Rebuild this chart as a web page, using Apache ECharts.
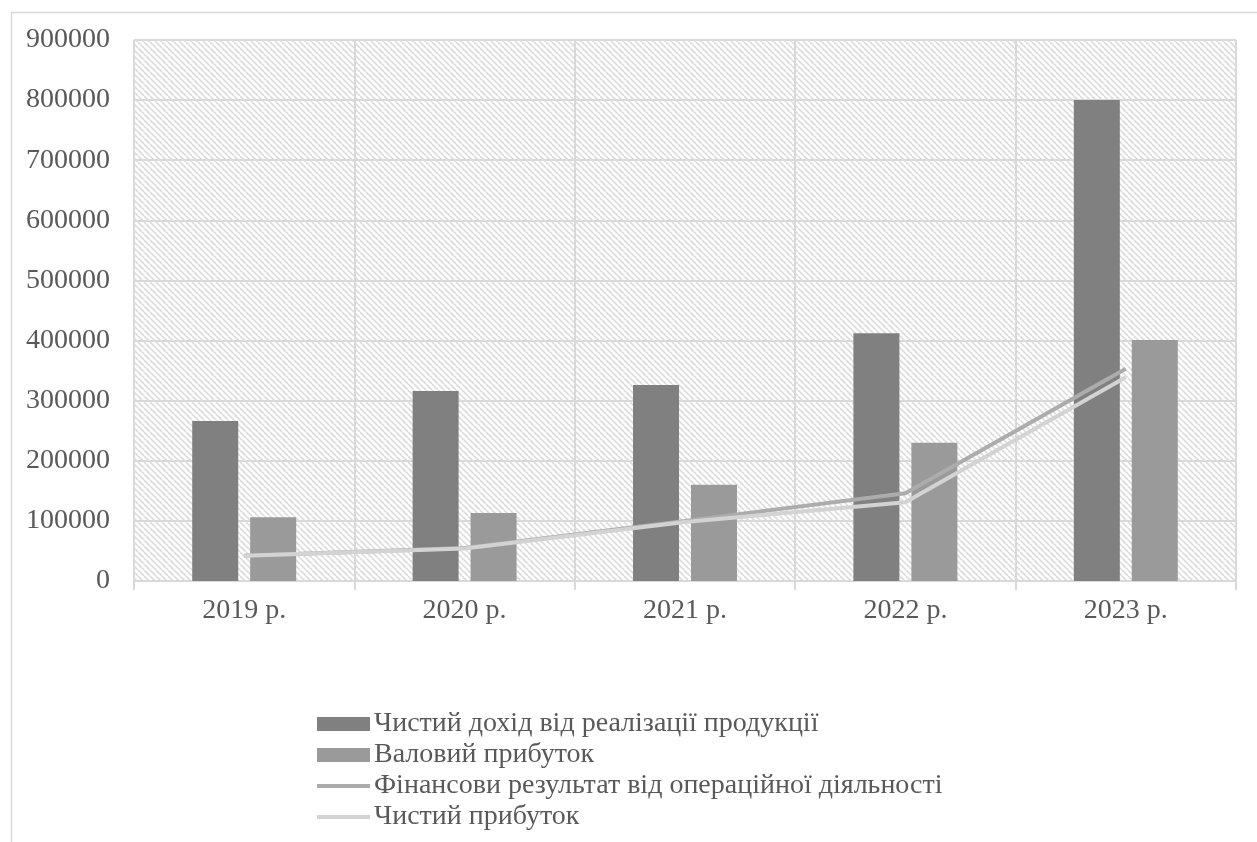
<!DOCTYPE html>
<html>
<head>
<meta charset="utf-8">
<script src="https://cdn.jsdelivr.net/npm/echarts@6/dist/echarts.min.js"></script>
<style>
    html, body { margin: 0; padding: 0; background: #fff; }
    #chart { width: 1257px; height: 842px; }
</style>
</head>
<body>
<div id="chart"></div>
<script>
// дані з діаграми
var years = ['2019 р.', '2020 р.', '2021 р.', '2022 р.', '2023 р.']
var netIncome = [266000, 316000, 326000, 412000, 800000]
var grossProfit = [106000, 113000, 160000, 230000, 401000]
var operResult = [42000, 55000, 100000, 146000, 353000]
var netProfit = [42000, 54000, 98000, 131000, 339000]
var seriesNames = [
    'Чистий дохід від реалізації продукції',
    'Валовий прибуток',
    'Фінансови результат від операційної діяльності',
    'Чистий прибуток'
]

// штриховка фону
function makeHatch() {
    var c = document.createElement('canvas')
    c.width = 6
    c.height = 6
    var ctx = c.getContext('2d')
    ctx.fillStyle = '#ffffff'
    ctx.fillRect(0, 0, 6, 6)
    ctx.strokeStyle = '#dcdcdc'
    ctx.lineWidth = 1.6
    ;[-6, 0, 6].forEach(function (o) {
        ctx.beginPath()
        ctx.moveTo(o, 0)
        ctx.lineTo(o + 6, 6)
        ctx.stroke()
    })
    return c
}

var font = '"Liberation Serif", "Times New Roman", serif'
var noSymbol = { color: 'rgba(0,0,0,0)', borderWidth: 0 }
var chart = echarts.init(document.getElementById('chart'))
chart.setOption({
    backgroundColor: '#fff',
    animation: false,
    graphic: [{
        type: 'rect',
        left: 9,
        top: 10,
        shape: { width: 1270, height: 860 },
        style: { fill: 'none', stroke: '#d9d9d9', lineWidth: 1.5 },
        silent: true
    }],
    grid: {
        left: 134,
        right: 21,
        top: 40,
        bottom: 261,
        show: true,
        borderWidth: 0,
        backgroundColor: { image: makeHatch(), repeat: 'repeat' }
    },
    legend: {
        orient: 'vertical',
        left: 310,
        top: 705,
        itemWidth: 53,
        itemHeight: 14,
        itemGap: 3,
        textStyle: { fontFamily: font, fontSize: 28, lineHeight: 28, color: '#595959', padding: [0, 0, 0, -1] },
        data: [
            { name: seriesNames[0], icon: 'rect' },
            { name: seriesNames[1], icon: 'rect' },
            { name: seriesNames[2], itemStyle: noSymbol, lineStyle: { width: 4 } },
            { name: seriesNames[3], itemStyle: noSymbol, lineStyle: { width: 4 } }
        ]
    },
    xAxis: {
        type: 'category',
        data: years,
        boundaryGap: true,
        axisLine: { lineStyle: { color: '#d9d9d9', width: 2 } },
        axisTick: { show: true, length: 9, lineStyle: { color: '#d9d9d9', width: 2 } },
        splitLine: { show: true, lineStyle: { color: '#d9d9d9', width: 2 } },
        axisLabel: { fontFamily: font, fontSize: 28, color: '#595959', margin: 16 }
    },
    yAxis: {
        type: 'value',
        min: 0,
        max: 900000,
        interval: 100000,
        axisLine: { show: false },
        axisTick: { show: false },
        splitLine: { lineStyle: { color: '#d9d9d9', width: 2 } },
        axisLabel: {
            fontFamily: font,
            fontSize: 28,
            color: '#595959',
            margin: 24,
            formatter: function (v) { return String(v) }
        }
    },
    series: [
        {
            name: seriesNames[0],
            type: 'bar',
            barWidth: 46,
            barGap: '26%',
            itemStyle: { color: '#808080' },
            data: netIncome
        },
        {
            name: seriesNames[1],
            type: 'bar',
            barWidth: 46,
            itemStyle: { color: '#9a9a9a' },
            data: grossProfit
        },
        {
            name: seriesNames[2],
            type: 'line',
            symbol: 'none',
            lineStyle: { color: '#acacac', width: 4 },
            itemStyle: { color: '#acacac' },
            data: operResult
        },
        {
            name: seriesNames[3],
            type: 'line',
            symbol: 'none',
            lineStyle: { color: '#d3d3d3', width: 4 },
            itemStyle: { color: '#d3d3d3' },
            data: netProfit
        }
    ]
})
</script>
</body>
</html>
